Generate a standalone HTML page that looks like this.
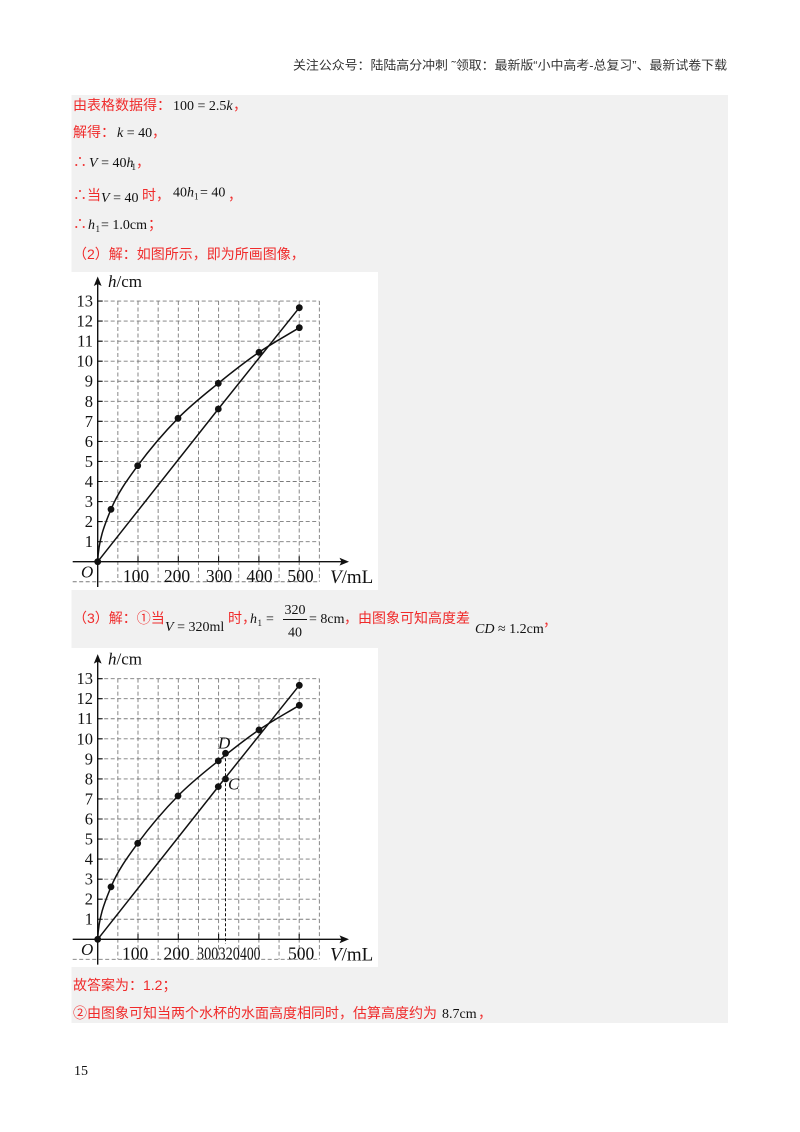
<!DOCTYPE html>
<html><head><meta charset="utf-8">
<style>
html,body{margin:0;padding:0;background:#fff;}
svg{display:block;}
.cn{font-family:"Liberation Sans","Noto Sans CJK SC",sans-serif;font-size:14px;fill:#f02b2b;}
.m{font-family:"Liberation Serif","Noto Serif CJK SC",serif;font-size:14px;fill:#111;}
.sub{font-family:"Liberation Serif",serif;font-size:9px;fill:#111;}
.i{font-style:italic;}
.ax{font-family:"Liberation Serif",serif;fill:#111;}
.grid{fill:none;stroke:#7a7a7a;stroke-width:0.9;stroke-dasharray:4 2.5;}
.crv{fill:none;stroke:#111;stroke-width:1.5;}
</style></head>
<body>
<svg width="800" height="1132" viewBox="0 0 800 1132" xmlns="http://www.w3.org/2000/svg">
<rect x="0" y="0" width="800" height="1132" fill="#fff"/>
<!-- header -->
<text x="293" y="69.5" textLength="434" lengthAdjust="spacingAndGlyphs" font-family="'Liberation Sans','Noto Sans CJK SC',sans-serif" font-size="12.3" fill="#333">关注公众号：陆陆高分冲刺 ˜领取：最新版“小中高考-总复习”、最新试卷下载</text>
<!-- gray box -->
<rect x="71.5" y="95" width="656.5" height="928" fill="#f1f1f1"/>

<!-- line 1 -->
<text y="110"><tspan class="cn" x="73">由表格数据得：</tspan><tspan class="m" x="173">100 = 2.5<tspan class="i">k</tspan></tspan><tspan class="cn" x="233">，</tspan></text>
<!-- line 2 -->
<text y="137"><tspan class="cn" x="73">解得：</tspan><tspan class="m" x="117"><tspan class="i">k</tspan> = 40</tspan><tspan class="cn" x="152">，</tspan></text>
<!-- line 3 -->
<text y="167"><tspan class="cn" x="73">∴</tspan><tspan class="m" x="89"><tspan class="i">V</tspan> = 40<tspan class="i">h</tspan></tspan></text>
<text class="sub" x="131.5" y="170">1</text>
<text class="cn" x="136" y="167">，</text>
<!-- line 4 -->
<text class="cn" x="73" y="200">∴当</text>
<text class="m" x="101" y="202"><tspan class="i">V</tspan> = 40</text>
<text class="cn" x="142" y="200">时，</text>
<text class="m" x="173" y="196.5">40<tspan class="i">h</tspan></text>
<text class="sub" x="194" y="199.5">1</text>
<text class="m" x="200" y="196.5">= 40</text>
<text class="cn" x="228" y="200">，</text>
<!-- line 5 -->
<text class="cn" x="73" y="229">∴</text>
<text class="m i" x="88" y="229">h</text>
<text class="sub" x="95.5" y="232">1</text>
<text class="m" x="101" y="229">= 1.0cm</text>
<text class="cn" x="148" y="229">；</text>
<!-- line 6 -->
<text class="cn" x="73" y="259">（2）解：如图所示，即为所画图像，</text>

<!-- ================= CHART 1 ================= -->
<g>
<rect x="71.5" y="272" width="306.5" height="318" fill="#fff"/>
<path class="grid" d="M117.85,301.05V581.75M138,301.05V581.75M158.15,301.05V581.75M178.3,301.05V581.75M198.45,301.05V581.75M218.6,301.05V581.75M238.75,301.05V581.75M258.9,301.05V581.75M279.05,301.05V581.75M299.2,301.05V581.75M319.35,301.05V581.75
M97.7,301.05H319.35M97.7,321.1H319.35M97.7,341.15H319.35M97.7,361.2H319.35M97.7,381.25H319.35M97.7,401.3H319.35M97.7,421.35H319.35M97.7,441.4H319.35M97.7,461.45H319.35M97.7,481.5H319.35M97.7,501.55H319.35M97.7,521.6H319.35M97.7,541.65H319.35M72.7,581.75H319.35"/>
<path d="M97.7,587V283M72.7,561.7H342" stroke="#111" stroke-width="1.4" fill="none"/>
<polygon points="97.7,276.5 93.8,286 97.7,284 101.6,286" fill="#111"/>
<polygon points="349,561.7 339.5,557.8 341.5,561.7 339.5,565.6" fill="#111"/>
<path d="M97.7,301.05h5M97.7,321.1h5M97.7,341.15h5M97.7,361.2h5M97.7,381.25h5M97.7,401.3h5M97.7,421.35h5M97.7,441.4h5M97.7,461.45h5M97.7,481.5h5M97.7,501.55h5M97.7,521.6h5M97.7,541.65h5M138,561.7v-5.5M178.3,561.7v-5.5M218.6,561.7v-5.5M258.9,561.7v-5.5M299.2,561.7v-5.5" stroke="#111" stroke-width="1.1"/>
<g class="ax" font-size="16.5" text-anchor="end">
<text x="93" y="306.5">13</text><text x="93" y="326.6">12</text><text x="93" y="346.6">11</text><text x="93" y="366.7">10</text>
<text x="93" y="386.7">9</text><text x="93" y="406.8">8</text><text x="93" y="426.8">7</text><text x="93" y="446.9">6</text>
<text x="93" y="466.9">5</text><text x="93" y="487">4</text><text x="93" y="507">3</text><text x="93" y="527.1">2</text><text x="93" y="547.1">1</text>
</g>
<g class="ax" font-size="17.5" text-anchor="middle">
<text x="136" y="582">100</text><text x="177" y="582">200</text><text x="219" y="582">300</text><text x="259.5" y="582">400</text><text x="300.5" y="582">500</text>
</g>
<text class="ax i" x="81" y="577.5" font-size="17">O</text>
<text class="ax" x="330" y="583" font-size="19"><tspan class="i">V</tspan>/mL</text>
<text class="ax" x="108" y="287" font-size="17"><tspan class="i">h</tspan>/cm</text>
<path class="crv" d="M97.7,561.7 C98.5,540 104.33,525.3 111,509.3 C117.67,493.3 126.53,480.87 137.7,465.7 C148.87,450.53 164.57,432.03 178,418.3 C191.43,404.57 204.8,394.3 218.3,383.3 C231.8,372.3 245.5,361.57 259,352.3 C272.5,343.03 285.87,335.9 299.3,327.7"/>
<path class="crv" d="M97.7,561.7 L218.3,409 L299.3,307.7"/>
<g fill="#111">
<circle cx="97.7" cy="561.7" r="3.4"/><circle cx="111" cy="509.3" r="3.4"/><circle cx="137.7" cy="465.7" r="3.4"/>
<circle cx="178" cy="418.3" r="3.4"/><circle cx="218.3" cy="383.3" r="3.4"/><circle cx="259" cy="352.3" r="3.4"/>
<circle cx="299.3" cy="327.7" r="3.4"/><circle cx="218.3" cy="409" r="3.4"/><circle cx="299.3" cy="307.7" r="3.4"/>
</g>
</g>

<!-- line (3) -->
<text class="cn" x="73" y="623">（3）解：①当</text>
<text class="m" x="165" y="631"><tspan class="i">V</tspan> = 320ml</text>
<text class="cn" x="228" y="623">时，</text>
<text class="m i" x="250" y="623">h</text>
<text class="sub" x="257.5" y="626">1</text>
<text class="m" x="266" y="623">=</text>
<text class="m" x="295" y="614" text-anchor="middle">320</text>
<line x1="283" y1="619.5" x2="307" y2="619.5" stroke="#111" stroke-width="0.9"/>
<text class="m" x="295" y="636.5" text-anchor="middle">40</text>
<text class="m" x="309" y="623">= 8cm</text>
<text class="cn" x="344" y="623">，由图象可知高度差</text>
<text class="m" x="475" y="633"><tspan class="i">CD</tspan> ≈ 1.2cm</text>
<text class="cn" x="543" y="626">，</text>

<!-- ================= CHART 2 ================= -->
<g transform="translate(0,377.6)">
<rect x="71.5" y="270.4" width="306.5" height="319" fill="#fff"/>
<path class="grid" d="M117.85,301.05V581.75M138,301.05V581.75M158.15,301.05V581.75M178.3,301.05V581.75M198.45,301.05V581.75M218.6,301.05V581.75M238.75,301.05V581.75M258.9,301.05V581.75M279.05,301.05V581.75M299.2,301.05V581.75M319.35,301.05V581.75
M97.7,301.05H319.35M97.7,321.1H319.35M97.7,341.15H319.35M97.7,361.2H319.35M97.7,381.25H319.35M97.7,401.3H319.35M97.7,421.35H319.35M97.7,441.4H319.35M97.7,461.45H319.35M97.7,481.5H319.35M97.7,501.55H319.35M97.7,521.6H319.35M97.7,541.65H319.35M72.7,581.75H319.35"/>
<path d="M225.5,375.7V566" stroke="#111" stroke-width="1" stroke-dasharray="3 2" fill="none"/>
<path d="M97.7,587V283M72.7,561.7H342" stroke="#111" stroke-width="1.4" fill="none"/>
<polygon points="97.7,276.5 93.8,286 97.7,284 101.6,286" fill="#111"/>
<polygon points="349,561.7 339.5,557.8 341.5,561.7 339.5,565.6" fill="#111"/>
<path d="M97.7,301.05h5M97.7,321.1h5M97.7,341.15h5M97.7,361.2h5M97.7,381.25h5M97.7,401.3h5M97.7,421.35h5M97.7,441.4h5M97.7,461.45h5M97.7,481.5h5M97.7,501.55h5M97.7,521.6h5M97.7,541.65h5M138,561.7v-5.5M178.3,561.7v-5.5M218.6,561.7v-5.5M258.9,561.7v-5.5M299.2,561.7v-5.5" stroke="#111" stroke-width="1.1"/>
<g class="ax" font-size="16.5" text-anchor="end">
<text x="93" y="306.5">13</text><text x="93" y="326.6">12</text><text x="93" y="346.6">11</text><text x="93" y="366.7">10</text>
<text x="93" y="386.7">9</text><text x="93" y="406.8">8</text><text x="93" y="426.8">7</text><text x="93" y="446.9">6</text>
<text x="93" y="466.9">5</text><text x="93" y="487">4</text><text x="93" y="507">3</text><text x="93" y="527.1">2</text><text x="93" y="547.1">1</text>
</g>
<g class="ax" font-size="17.5">
<text x="122" y="582">100</text><text x="163.5" y="582">200</text>
<text x="197" y="582" textLength="21.3" lengthAdjust="spacingAndGlyphs">300</text>
<text x="218.5" y="582" textLength="21.3" lengthAdjust="spacingAndGlyphs">320</text>
<text x="240" y="582" textLength="20.5" lengthAdjust="spacingAndGlyphs">400</text>
<text x="288" y="582">500</text>
</g>
<text class="ax i" x="81" y="577.5" font-size="17">O</text>
<text class="ax" x="330" y="583" font-size="19"><tspan class="i">V</tspan>/mL</text>
<text class="ax" x="108" y="287" font-size="17"><tspan class="i">h</tspan>/cm</text>
<path class="crv" d="M97.7,561.7 C98.5,540 104.33,525.3 111,509.3 C117.67,493.3 126.53,480.87 137.7,465.7 C148.87,450.53 164.57,432.03 178,418.3 C191.43,404.57 204.8,394.3 218.3,383.3 C231.8,372.3 245.5,361.57 259,352.3 C272.5,343.03 285.87,335.9 299.3,327.7"/>
<path class="crv" d="M97.7,561.7 L218.3,409 L299.3,307.7"/>
<g fill="#111">
<circle cx="97.7" cy="561.7" r="3.4"/><circle cx="111" cy="509.3" r="3.4"/><circle cx="137.7" cy="465.7" r="3.4"/>
<circle cx="178" cy="418.3" r="3.4"/><circle cx="218.3" cy="383.3" r="3.4"/><circle cx="259" cy="352.3" r="3.4"/>
<circle cx="299.3" cy="327.7" r="3.4"/><circle cx="218.3" cy="409" r="3.4"/><circle cx="299.3" cy="307.7" r="3.4"/>
<circle cx="225.5" cy="375.7" r="3.4"/><circle cx="225.5" cy="401.4" r="3.4"/>
</g>
<text class="ax i" x="218" y="370.9" font-size="17">D</text>
<text class="ax i" x="228" y="411.9" font-size="17">C</text>
</g>

<!-- final lines -->
<text class="cn" x="73" y="990">故答案为：1.2；</text>
<text class="cn" x="73" y="1018">②由图象可知当两个水杯的水面高度相同时，估算高度约为</text>
<text class="m" x="442" y="1018">8.7cm</text>
<text class="cn" x="478" y="1018">，</text>

<text class="ax" x="74" y="1075" font-size="14" fill="#222">15</text>
</svg>
</body></html>
